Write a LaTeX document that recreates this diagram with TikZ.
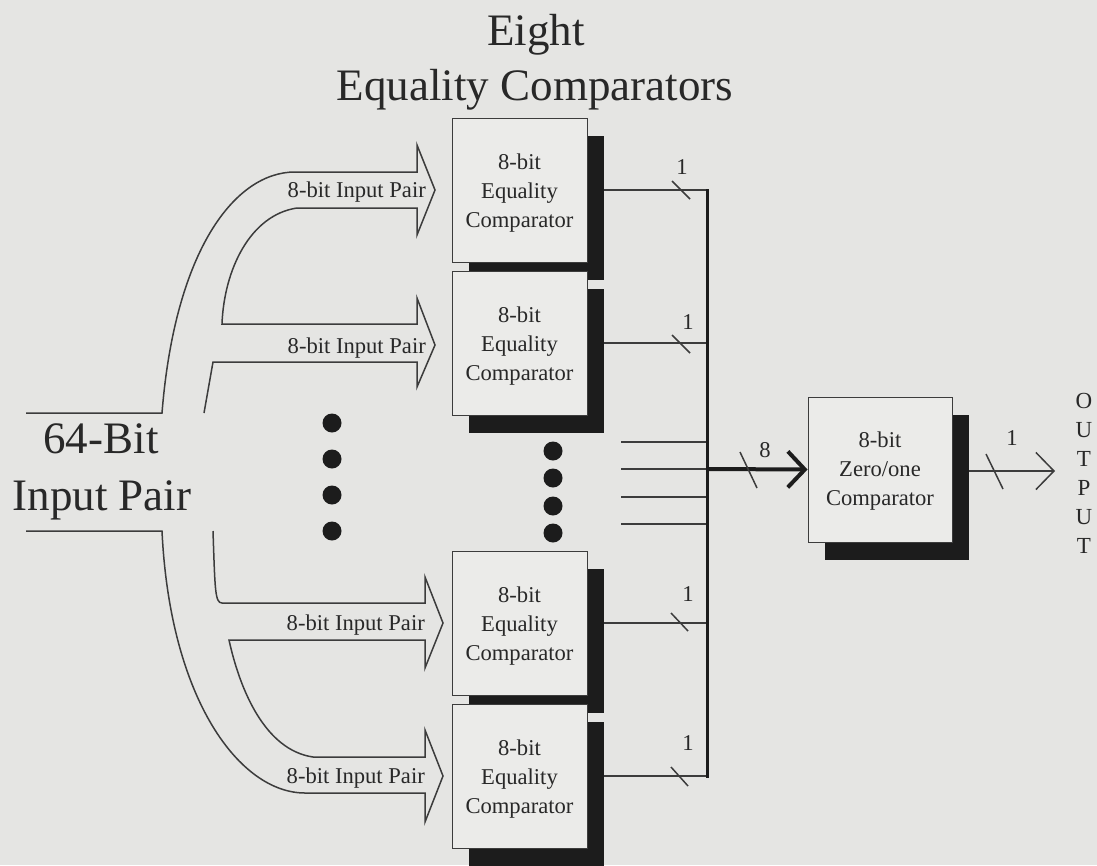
\documentclass[tikz,border=0pt]{standalone}
\usepackage{fontspec}
\setmainfont{Liberation Serif}
\usetikzlibrary{shadows,arrows.meta}
\definecolor{bgc}{RGB}{229,229,227}
\definecolor{boxc}{RGB}{235,235,233}
\definecolor{linec}{RGB}{60,60,60}
\definecolor{shadowc}{RGB}{28,28,28}
\definecolor{textc}{RGB}{40,40,40}
\newcommand{\myStrutA}{\rule{0pt}{21.5pt}}
\newcommand{\myStrutB}{\rule{0pt}{19.5pt}}
\tikzset{
  boxfont/.style={font=\fontsize{22.6}{29}\selectfont},
  eqbox/.style={draw=linec, fill=boxc, line width=0.9pt, minimum width=135pt,
    minimum height=144pt, inner sep=0pt, align=center, boxfont, text=textc,
    drop shadow={shadow xshift=17pt, shadow yshift=-18pt, fill=shadowc, opacity=1}},
  zobox/.style={eqbox, minimum width=144pt, minimum height=145pt},
  wire/.style={draw=linec, line width=1.5pt},
  busline/.style={draw=shadowc, line width=3pt, line cap=rect},
  arr/.style={draw=linec, line width=1.5pt, line join=miter},
  lbl/.style={boxfont, text=textc, inner sep=0pt},
  bigtxt/.style={font=\fontsize{45}{55}\selectfont, text=textc, inner sep=0pt},
  dot/.style={fill=shadowc},
}
\begin{document}
\begin{tikzpicture}[x=1pt,y=-1pt]
\useasboundingbox (0,0) rectangle (1097,865);
\fill[bgc] (0,0) rectangle (1097,865);

% titles
\node[bigtxt, anchor=base] (t1) at (536,45) {Eight};
\node[bigtxt, anchor=base] (t2) at (535,100) {Equality Comparators};
\node[bigtxt, anchor=base] (in1) at (101,453) {64-Bit};
\node[bigtxt, anchor=base] (in2) at (102,510) {Input Pair};

% big hollow arrows
\draw[arr] (26,413) -- (162,413) .. controls (175,250) and (235,172) .. (295,172)
  -- (417,172) -- (417,145) -- (435,190) -- (417,235) -- (417,208) -- (297,208)
  .. controls (250,215) and (224,270) .. (222,324)
  -- (417,324) -- (417,298) -- (435,345) -- (417,387) -- (417,362) -- (213,362) -- (204,413);
\draw[arr] (26,531) -- (162,531) .. controls (170,700) and (240,793) .. (305,793)
  -- (425,793) -- (425,822) -- (443,776) -- (425,730) -- (425,757) -- (313,757)
  .. controls (265,750) and (240,690) .. (229,640)
  -- (425,640) -- (425,668) -- (443,623) -- (425,577) -- (425,603) -- (222,603)
  .. controls (215,603) and (215,590) .. (213,531);

\node[lbl, anchor=base east] (p1) at (426,197) {8-bit Input Pair};
\node[lbl, anchor=base east] (p2) at (426,353) {8-bit Input Pair};
\node[lbl, anchor=base east] (p3) at (425,630) {8-bit Input Pair};
\node[lbl, anchor=base east] (p4) at (425,783) {8-bit Input Pair};

% dots
\fill[dot] (332,423) circle (9.5);
\fill[dot] (332,459) circle (9.5);
\fill[dot] (332,495) circle (9.5);
\fill[dot] (332,531) circle (9.5);
\fill[dot] (553,451) circle (9.5);
\fill[dot] (553,478) circle (9.5);
\fill[dot] (553,506) circle (9.5);
\fill[dot] (553,533) circle (9.5);

% comparator boxes
\node[eqbox] (b1) at (519.5,190) {\myStrutA 8-bit\\Equality\\Comparator};
\node[eqbox] (b2) at (519.5,343) {\myStrutA 8-bit\\Equality\\Comparator};
\node[eqbox] (b3) at (519.5,623) {\myStrutA 8-bit\\Equality\\Comparator};
\node[eqbox] (b4) at (519.5,776) {\myStrutA 8-bit\\Equality\\Comparator};
\node[zobox] (zo) at (880,469.5) {\myStrutB 8-bit\\Zero/one\\Comparator};

% bus
\coordinate (bx) at (707,0);
\draw[wire] ([xshift=17pt]b1.east) -- (b1.east -| bx);
\draw[wire] ([xshift=17pt]b2.east) -- (b2.east -| bx);
\draw[wire] ([xshift=17pt]b3.east) -- (b3.east -| bx);
\draw[wire] ([xshift=17pt]b4.east) -- (b4.east -| bx);
\coordinate (s1) at (621,442);
\coordinate (s2) at (621,469);
\coordinate (s3) at (621,497);
\coordinate (s4) at (621,524);
\draw[wire] (s1) -- (s1 -| bx);
\draw[wire] (s2) -- (s2 -| bx);
\draw[wire] (s3) -- (s3 -| bx);
\draw[wire] (s4) -- (s4 -| bx);
\draw[busline] (b1.east -| bx) -- (b4.east -| bx);

% slashes and widths
\draw[wire] (672,181) -- (690,199);
\draw[wire] (672,335) -- (690,353);
\draw[wire] (671,613) -- (688,631);
\draw[wire] (671,767) -- (688,786);
\node[lbl] (w1) at (682,167) {1};
\node[lbl] (w2) at (688,322) {1};
\node[lbl] (w3) at (688,594) {1};
\node[lbl] (w4) at (688,743) {1};

% main arrow to zero/one comparator
\draw[draw=shadowc, line width=4pt, -{Straight Barb[length=17pt, width=36pt, line width=4pt]}]
  (s2 -| bx) -- (zo.west);
\draw[wire] (740,452) -- (757,488);
\node[lbl] (w8) at (765,450) {8};

% output
\coordinate (outend) at (1055,471);
\draw[wire, -{Straight Barb[length=18pt, width=37pt, line width=1.5pt]}]
  ([shift={(17,1.5)}]zo.east) -- (outend);
\draw[wire] (986,454) -- (1003,489);
\node[lbl] (wo) at (1012,438) {1};
\node[font=\fontsize{23}{29}\selectfont, text=textc, align=center, inner sep=0pt, anchor=north]
  (out) at (1084,393) {O\\U\\T\\P\\U\\T};
\end{tikzpicture}
\end{document}
